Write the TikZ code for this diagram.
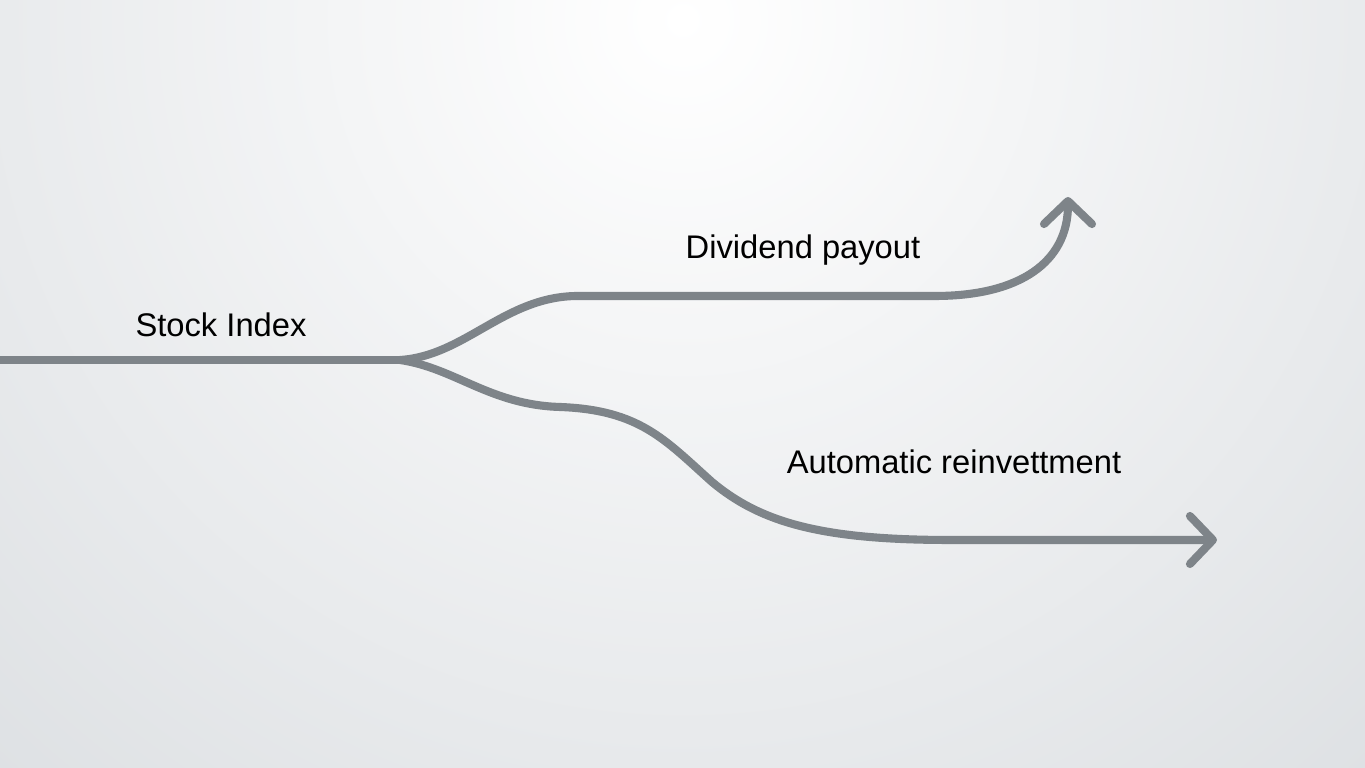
\documentclass[tikz,border=0pt]{standalone}
\usepackage{fontspec}
\setmainfont{Liberation Sans}
\definecolor{flowgray}{RGB}{126, 132, 137}
\definecolor{bggray}{RGB}{221, 224, 227}
\usepackage{tikz}
\usetikzlibrary{arrows.meta, positioning, calc}

\begin{document}
\begin{tikzpicture}[x=0.01cm, y=-0.01cm,
    flow/.style={draw=flowgray, line width=2.3pt, line cap=round},
    flowtip/.style={-{Straight Barb[length=2.3mm, width=4.8mm, round]}},
    flowlabel/.style={font=\fontsize{9.3}{11}\selectfont, text=black, inner sep=0pt}]
  \useasboundingbox (0,0) rectangle (1365,768);
  \clip (0,0) rectangle (1365,768);
  \shade[inner color=white, outer color=bggray] (683,20) circle[radius=10.5cm];

  \coordinate (start) at (-10,360);
  \coordinate (split) at (400,360);
  \coordinate (divtip) at (1068,197);
  \coordinate (reintip) at (1217,540);

  \node[flowlabel] (stockindex) at (221,325) {Stock Index};
  \node[flowlabel] (dividend) at (803,250) {Dividend payout};
  \node[flowlabel] (reinvest) at (954,462) {Automatic reinvettment};

  \draw[flow] (start) -- (split);
  \draw[flow, flowtip] (split) .. controls (465,356) and (505,296) .. (578,296)
    -- (935,296) .. controls (1020,296) and (1068,262) .. (divtip);
  \draw[flow, flowtip] (split) .. controls (455,368) and (490,405) .. (560,407)
    .. controls (640,410) and (665,440) .. (712,482)
    .. controls (760,522) and (820,540) .. (950,540) -- (reintip);
\end{tikzpicture}
\end{document}
